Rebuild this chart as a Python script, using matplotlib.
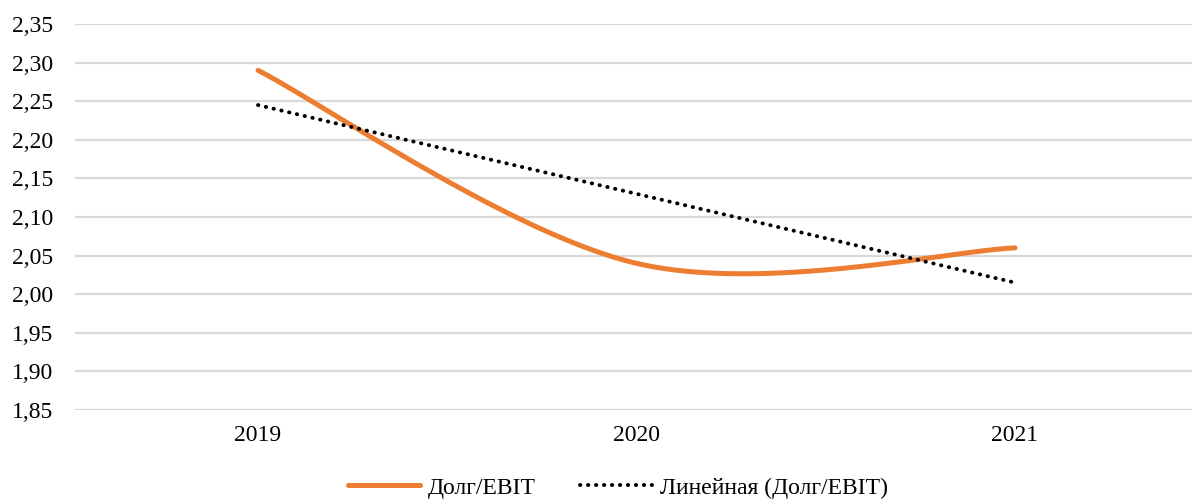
import numpy as np
import matplotlib.pyplot as plt
from matplotlib.lines import Line2D

years = ["2019", "2020", "2021"]
debt_ebit = [2.29, 2.04, 2.06]
yticks = [1.85, 1.90, 1.95, 2.00, 2.05, 2.10, 2.15, 2.20, 2.25, 2.30, 2.35]


def smooth(x, y, n=60):
    # Catmull-Rom style bezier, like the spreadsheet "smoothed line"
    x = np.asarray(x, float)
    y = np.asarray(y, float)
    px = np.concatenate([[x[0]], x, [x[-1]]])
    py = np.concatenate([[y[0]], y, [y[-1]]])
    xs, ys = [], []
    t = np.linspace(0, 1, n)
    for i in range(1, len(x)):
        p0 = np.array([px[i], py[i]])
        p3 = np.array([px[i + 1], py[i + 1]])
        c1 = p0 + (p3 - np.array([px[i - 1], py[i - 1]])) / 6
        c2 = p3 - (np.array([px[i + 2], py[i + 2]]) - p0) / 6
        pts = ((1 - t) ** 3)[:, None] * p0 + (3 * (1 - t) ** 2 * t)[:, None] * c1 \
            + (3 * (1 - t) * t ** 2)[:, None] * c2 + (t ** 3)[:, None] * p3
        xs.extend(pts[:, 0])
        ys.extend(pts[:, 1])
    return np.array(xs), np.array(ys)


plt.rcParams["font.family"] = ["Liberation Serif", "DejaVu Serif"]
FS = 17
DOTS = (0, (0.1, 1.95))

fig = plt.figure(figsize=(11.92, 4.99), dpi=100)
ax = fig.add_axes([75 / 1192, 1 - 410 / 499, 1 - 75 / 1192, 386 / 499])

xpos = np.arange(len(years))
sx, sy = smooth(xpos, debt_ebit)
ax.plot(sx, sy, color="#ED7D31", lw=3.6, solid_capstyle="round", zorder=3)

k, b = np.polyfit(xpos, debt_ebit, 1)
ax.plot(xpos, k * xpos + b, color="black", lw=2.8, linestyle=DOTS,
        dash_capstyle="round", zorder=4)

# category 0 sits at 258 px, spacing 378.5 px
ax.set_xlim(-(258 - 75) / 378.5, (1192 - 258) / 378.5)
ax.set_ylim(1.85, 2.35)
ax.set_yticks(yticks)
ax.set_yticklabels([f"{v:.2f}".replace(".", ",") for v in yticks])
ax.set_xticks(xpos)
ax.set_xticklabels(years)
ax.tick_params(length=0, labelsize=FS, colors="black")
ax.tick_params(axis="y", pad=16)
ax.tick_params(axis="x", pad=11)
ax.grid(axis="y", color="#d9d9d9", lw=1.6)
ax.set_axisbelow(True)
for s in ax.spines.values():
    s.set_visible(False)

handles = [
    Line2D([], [], color="#ED7D31", lw=3.6, solid_capstyle="round"),
    Line2D([], [], color="black", lw=2.8, linestyle=DOTS, dash_capstyle="round"),
]
fig.legend(handles, ["Долг/EBIT", "Линейная (Долг/EBIT)"], loc="center",
           bbox_to_anchor=(618 / 1192, 1 - 488 / 499), ncol=2, frameon=False,
           fontsize=FS, handlelength=3.05, handletextpad=0.3, columnspacing=1.9,
           borderpad=0, borderaxespad=0)

fig.savefig("out.png", dpi=100)
